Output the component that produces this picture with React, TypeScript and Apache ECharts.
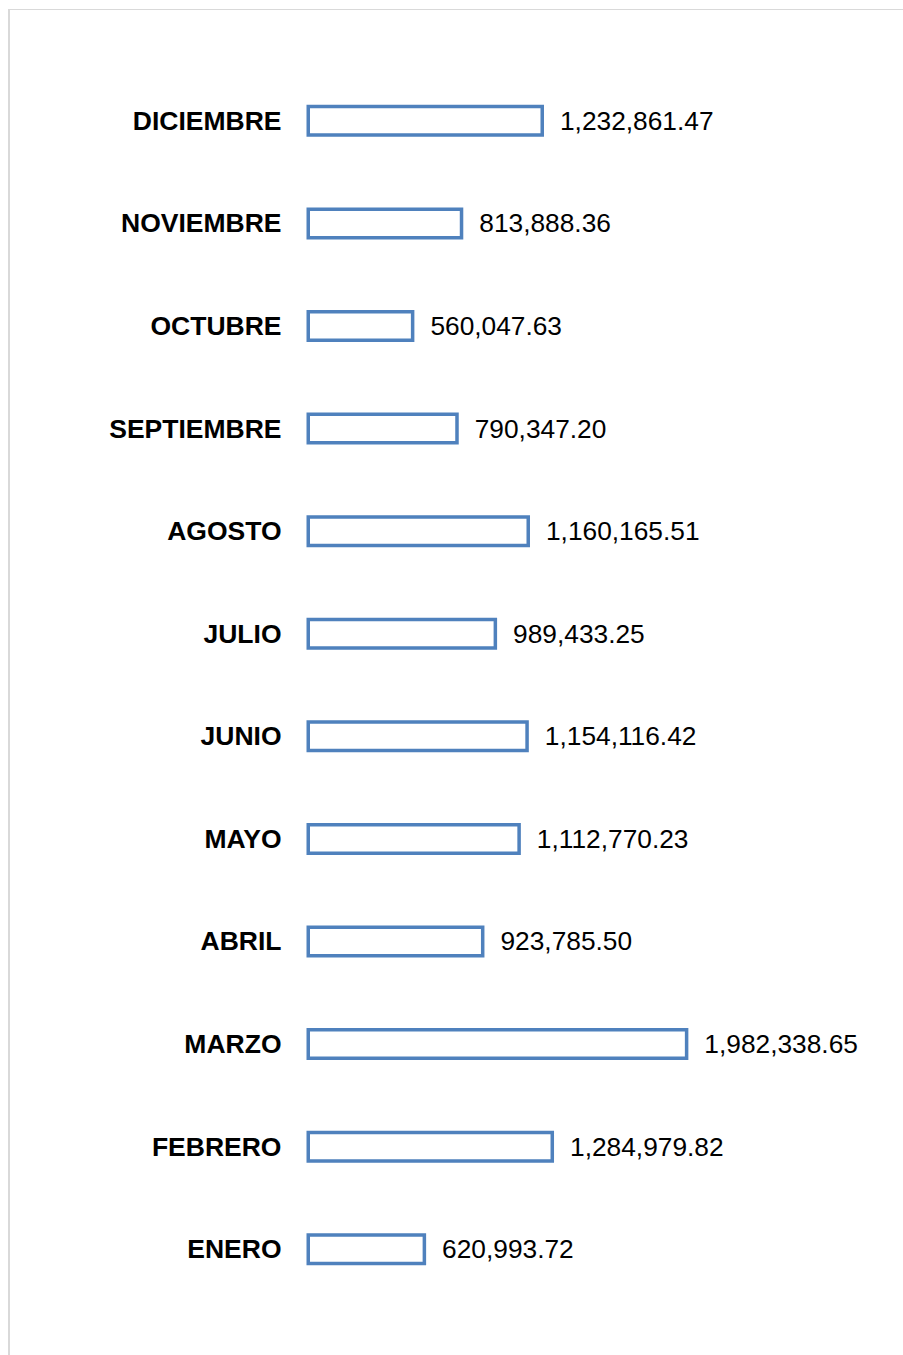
import React, { useEffect, useRef } from "react";
import * as echarts from "echarts";

const categories = [
  "ENERO",
  "FEBRERO",
  "MARZO",
  "ABRIL",
  "MAYO",
  "JUNIO",
  "JULIO",
  "AGOSTO",
  "SEPTIEMBRE",
  "OCTUBRE",
  "NOVIEMBRE",
  "DICIEMBRE",
];

const values = [
  620993.72,
  1284979.82,
  1982338.65,
  923785.5,
  1112770.23,
  1154116.42,
  989433.25,
  1160165.51,
  790347.2,
  560047.63,
  813888.36,
  1232861.47,
];

const fmt = (v: number) =>
  v.toLocaleString("en-US", { minimumFractionDigits: 2, maximumFractionDigits: 2 });

export default function App() {
  const ref = useRef<HTMLDivElement>(null);
  useEffect(() => {
    if (!ref.current) return;
    const chart = echarts.init(ref.current, undefined, { renderer: "svg" });
    chart.setOption({
      animation: false,
      backgroundColor: "#ffffff",
      grid: { left: 306.5, right: 18.6, top: 69.5, bottom: 54.5, containLabel: false },
      xAxis: {
        type: "value",
        min: 0,
        max: 3000000,
        show: false,
        splitLine: { show: false },
      },
      yAxis: {
        type: "category",
        data: categories,
        axisLine: { show: false },
        axisTick: { show: false },
        axisLabel: {
          margin: 25,
          fontFamily: "Liberation Sans, Arial, sans-serif",
          fontWeight: "bold",
          fontSize: 26.5,
          color: "#000000",
        },
      },
      graphic: [
        {
          type: "line",
          shape: { x1: 9, y1: 9.5, x2: 903, y2: 9.5 },
          style: { stroke: "#d9d9d9", lineWidth: 1 },
          silent: true,
        },
        {
          type: "line",
          shape: { x1: 9, y1: 9, x2: 9, y2: 1355 },
          style: { stroke: "#d9d9d9", lineWidth: 2 },
          silent: true,
        },
      ],
      series: [
        {
          type: "bar",
          data: values,
          barWidth: 32,
          itemStyle: {
            color: "#ffffff",
            borderColor: "#4F81BD",
            borderWidth: 3.5,
          },
          label: {
            show: true,
            position: "right",
            distance: 16,
            formatter: (p: any) => fmt(p.value),
            fontFamily: "Liberation Sans, Arial, sans-serif",
            fontSize: 26.3,
            color: "#000000",
          },
        },
      ],
    });
    return () => chart.dispose();
  }, []);
  return (
    <div
      ref={ref}
      style={{ position: "absolute", left: 0, top: 0, width: 903, height: 1355 }}
    />
  );
}
